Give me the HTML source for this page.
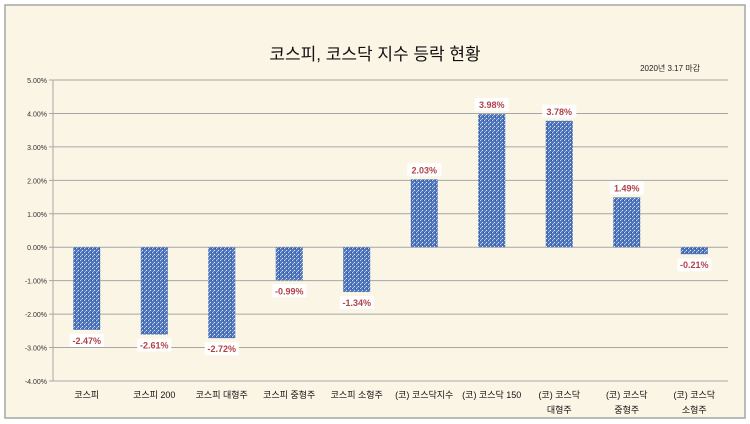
<!DOCTYPE html>
<html><head><meta charset="utf-8">
<style>
body{margin:0;width:750px;height:424px;background:#fff;overflow:hidden;}
svg{display:block;font-family:"Liberation Sans","Noto Sans CJK KR",sans-serif;}
</style></head><body>
<svg id="chart" width="750" height="424" viewBox="0 0 750 424">
<defs>
<pattern id="tex" width="4" height="4" patternUnits="userSpaceOnUse">
<rect width="4" height="4" fill="#4f76bb"/>
<rect x="0" y="0" width="1" height="1" fill="#c9d6ee"/>
<rect x="2" y="2" width="1" height="1" fill="#dfe7f5"/>
<rect x="3" y="0" width="1" height="1" fill="#2f559c"/>
<rect x="1" y="3" width="1" height="1" fill="#9fb4dc"/>
</pattern>
</defs>
<rect x="5" y="5" width="740" height="413" fill="#fbf5e6" stroke="#a6a6a6" stroke-width="1.5"/>
<text x="375" y="60" text-anchor="middle" font-size="17" fill="#111">코스피, 코스닥 지수 등락 현황</text>
<text x="700" y="71" text-anchor="end" font-size="8" fill="#222">2020년 3.17 마감</text>
<g id="grid"></g><g id="bars"></g><g id="labels"></g>
</svg>
<script>
const categories=["코스피","코스피 200","코스피 대형주","코스피 중형주","코스피 소형주","(코) 코스닥지수","(코) 코스닥 150","(코) 코스닥|대형주","(코) 코스닥|중형주","(코) 코스닥|소형주"];
const values=[-2.47,-2.61,-2.72,-0.99,-1.34,2.03,3.98,3.78,1.49,-0.21];
const ticks=[5,4,3,2,1,0,-1,-2,-3,-4];
const NS="http://www.w3.org/2000/svg";
const X0=53,X1=728,Y5=80,Ym4=381;
const y=v=>Y5+(5-v)*(Ym4-Y5)/9;
const step=(X1-X0)/categories.length;
const xc=i=>X0+step*(i+0.5);
function mk(t,a,p){const e=document.createElementNS(NS,t);for(const k in a)e.setAttribute(k,a[k]);p.appendChild(e);return e;}
const grid=document.getElementById('grid'),bars=document.getElementById('bars'),labels=document.getElementById('labels');
ticks.forEach(t=>{
  const l=mk('line',{x1:X0-4,x2:X1,y1:y(t),y2:y(t),stroke:'#a6a6a6','stroke-width':1},grid);
  
  
  const tx=mk('text',{x:X0-6,y:y(t)+3,'text-anchor':'end','font-size':7,fill:'#333'},grid);
  tx.textContent=t.toFixed(2)+'%';
  
  
});
const ax=mk('line',{x1:X0,x2:X0,y1:Y5,y2:Ym4,stroke:'#a6a6a6'},grid);


values.forEach((v,i)=>{
  const bw=27,top=y(Math.max(v,0)),bot=y(Math.min(v,0));
  const r=mk('rect',{x:xc(i)-bw/2,y:top,width:bw,height:bot-top,fill:'url(#tex)'},bars);
  
  
  const s=(v<0?'-':'')+Math.abs(v).toFixed(2)+'%';
  const ly=v>=0?y(v)-6:y(v)+14;
  const bg=mk('rect',{x:xc(i)-17,y:ly-10,width:34,height:13,fill:'#fff'},labels);
  
  
  const t=mk('text',{x:xc(i),y:ly,'text-anchor':'middle','font-size':9,'font-weight':'bold',fill:'#b0424a'},labels);
  t.textContent=s;
  
  
  const parts=categories[i].split('|');
  parts.forEach((p,j)=>{
    const c=mk('text',{x:xc(i),y:398+j*15,'text-anchor':'middle','font-size':9,fill:'#111'},labels);
    c.textContent=p;
    
    
  });
});
</script>
</body></html>
